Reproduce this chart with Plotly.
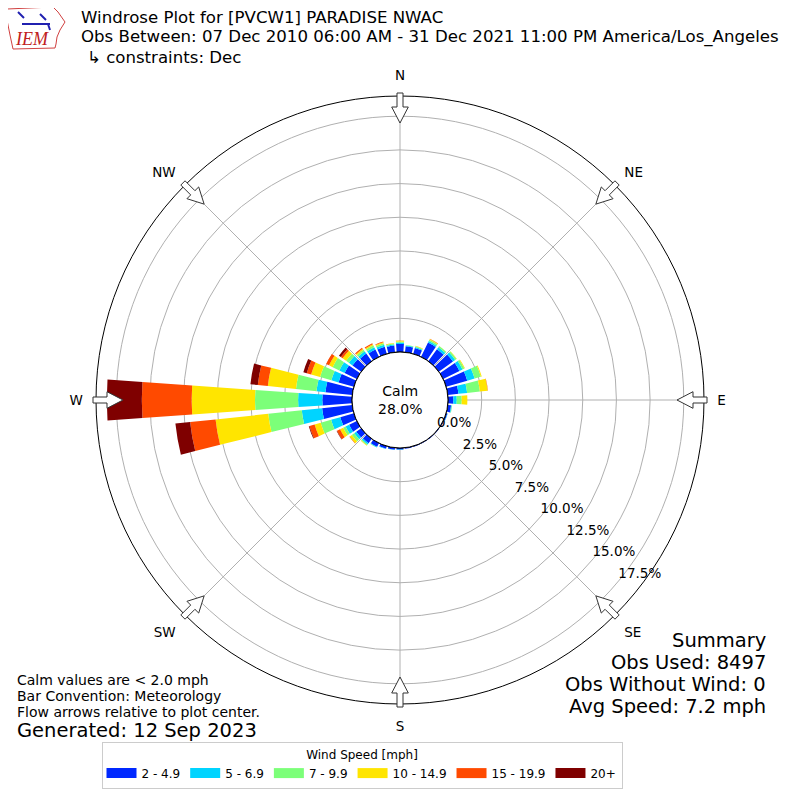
import math
import plotly.graph_objects as go

# ---------------- data ----------------
directions = list(range(0, 360, 10))  # bearing (deg) of each 10-degree sector
speed_bins = ["2 - 4.9", "5 - 6.9", "7 - 9.9", "10 - 14.9", "15 - 19.9", "20+"]
bin_colors = ["#0028ff", "#00d4ff", "#7cff79", "#ffe500", "#ff4a00", "#7f0000"]

# percent of observations per sector, one list per speed bin
pct_2_5 = [0.60, 0.45, 0.45, 1.18, 1.10, 1.30, 1.35, 1.63, 0.80, 0.40, 0.25, 0.10,
           0.06, 0.05, 0.05, 0.05, 0.06, 0.08, 0.12, 0.15, 0.20, 0.30, 0.40, 0.45,
           0.64, 1.05, 2.25, 2.20, 2.00, 1.18, 1.01, 0.80, 0.70, 0.60, 0.55, 0.50]
pct_5_7 = [0.10, 0.06, 0.08, 0.12, 0.18, 0.20, 0.25, 0.57, 0.65, 0.25, 0.05, 0.02,
           0.00, 0.00, 0.00, 0.00, 0.00, 0.00, 0.02, 0.02, 0.03, 0.05, 0.12, 0.19,
           0.29, 0.71, 1.52, 1.80, 0.67, 0.56, 0.44, 0.33, 0.20, 0.20, 0.15, 0.08]
pct_7_10 = [0.08, 0.04, 0.06, 0.12, 0.10, 0.12, 0.15, 0.48, 0.95, 0.37, 0.03, 0.00,
            0.00, 0.00, 0.00, 0.00, 0.00, 0.00, 0.00, 0.00, 0.00, 0.02, 0.08, 0.22,
            0.20, 0.80, 2.50, 3.20, 1.53, 0.87, 0.55, 0.26, 0.15, 0.15, 0.12, 0.07]
pct_10_15 = [0.05, 0.00, 0.03, 0.06, 0.02, 0.03, 0.05, 0.07, 0.58, 0.42, 0.00, 0.00,
             0.00, 0.00, 0.00, 0.00, 0.00, 0.00, 0.00, 0.00, 0.00, 0.00, 0.03, 0.19,
             0.26, 0.47, 3.93, 4.70, 2.10, 0.69, 0.30, 0.32, 0.10, 0.10, 0.08, 0.04]
pct_15_20 = [0.02, 0.00, 0.00, 0.02, 0.00, 0.00, 0.00, 0.00, 0.02, 0.00, 0.00, 0.00,
             0.00, 0.00, 0.00, 0.00, 0.00, 0.00, 0.00, 0.00, 0.00, 0.00, 0.00, 0.03,
             0.25, 0.40, 1.90, 3.70, 0.75, 0.34, 0.24, 0.16, 0.09, 0.08, 0.05, 0.01]
pct_20_up = [0.00, 0.00, 0.00, 0.00, 0.00, 0.00, 0.00, 0.00, 0.00, 0.00, 0.00, 0.00,
             0.00, 0.00, 0.00, 0.00, 0.00, 0.00, 0.00, 0.00, 0.00, 0.00, 0.00, 0.00,
             0.03, 0.05, 1.10, 2.60, 0.55, 0.26, 0.00, 0.17, 0.00, 0.00, 0.00, 0.00]
speed_series = [pct_2_5, pct_5_7, pct_7_10, pct_10_15, pct_15_20, pct_20_up]

radial_ticks = [0.0, 2.5, 5.0, 7.5, 10.0, 12.5, 15.0, 17.5]
compass_deg = [0, 45, 90, 135, 180, 225, 270, 315]
compass_lbl = ["N", "NE", "E", "SE", "S", "SW", "W", "NW"]

calm_pct = 28.0
obs_used = 8497
obs_no_wind = 0
avg_speed = 7.2

# ---------------- geometry helpers (layout only) ----------------
W = H = 800
OFF = 8  # page body margin in the browser
CX, CY, R_OUT, R_HOLE = 400, 400, 304, 48  # target pixel geometry on screen
FONT = "DejaVu Sans"


def px_x(x):
    return (x - OFF) / W


def px_y(y):
    return 1 - (y - OFF) / H


fig = go.Figure()

for vals, name, col in zip(speed_series, speed_bins, bin_colors):
    fig.add_trace(go.Barpolar(
        r=vals, theta=directions, width=8, name=name,
        marker=dict(color=col, line=dict(width=0)),
        showlegend=False, legendgroup=name,
    ))

# hole outline
fig.add_trace(go.Scatterpolar(
    r=[0] * 361, theta=list(range(361)), mode="lines",
    line=dict(color="black", width=1), showlegend=False, hoverinfo="skip"))

# radial tick labels
fig.add_trace(go.Scatterpolar(
    r=radial_ticks, theta=[129.7] * len(radial_ticks), mode="text",
    text=[f"{v:.1f}%" for v in radial_ticks], textposition="top right",
    textfont=dict(family=FONT, size=13.5, color="black"),
    showlegend=False, hoverinfo="skip", cliponaxis=False))

# legend entries (wide colour swatches)
for name, col in zip(speed_bins, bin_colors):
    fig.add_trace(go.Scatterpolar(
        r=[None], theta=[None], mode="lines", name=name, legendgroup=name,
        line=dict(color=col, width=10), showlegend=True))

fig.update_layout(
    width=W, height=H, margin=dict(l=0, r=0, t=0, b=0),
    paper_bgcolor="white", plot_bgcolor="white",
    font=dict(family=FONT, size=13, color="black"),
    polar=dict(
        domain=dict(x=[px_x(CX - R_OUT), px_x(CX + R_OUT)],
                    y=[px_y(CY + R_OUT), px_y(CY - R_OUT)]),
        hole=R_HOLE / R_OUT,
        bgcolor="white",
        barmode="stack",
        radialaxis=dict(range=[0, 19.0], tickmode="array", tickvals=radial_ticks,
                        showticklabels=False, ticks="", showline=False,
                        gridcolor="#b0b0b0", gridwidth=1),
        angularaxis=dict(rotation=90, direction="clockwise", tickmode="array",
                         tickvals=compass_deg, ticktext=compass_lbl,
                         ticks="outside", ticklen=10, tickcolor="rgba(0,0,0,0)",
                         showline=True, linecolor="black", linewidth=1,
                         gridcolor="#b0b0b0", gridwidth=1,
                         tickfont=dict(family=FONT, size=13.5, color="black")),
    ),
    legend=dict(orientation="h", x=px_x(362), y=px_y(742), xanchor="center", yanchor="top",
                bordercolor="#cccccc", borderwidth=1, bgcolor="white",
                font=dict(family=FONT, size=12),
                title=dict(text="Wind Speed [mph]", side="top center",
                           font=dict(family=FONT, size=12)),
                itemwidth=30),
)

# flow arrows at compass points
shapes = []
arrow_local = [(307, -3), (293, -3), (293, -8.3), (277, 0), (293, 8.3), (293, 3), (307, 3)]
for b in compass_deg:
    t = math.radians(b)
    ux, uy = math.sin(t), -math.cos(t)
    vx, vy = math.cos(t), math.sin(t)
    pts = [(CX + s * ux + w * vx, CY + s * uy + w * vy) for s, w in arrow_local]
    path = "M " + " L ".join(f"{px_x(x):.5f},{px_y(y):.5f}" for x, y in pts) + " Z"
    shapes.append(dict(type="path", xref="paper", yref="paper", path=path,
                       fillcolor="white", line=dict(color="#333333", width=1), layer="above"))

# IEM logo approximation
logo = [(7, 9), (53, 7), (58, 12), (65, 22), (60, 30), (57, 37), (56, 44), (55, 48),
        (13, 49), (10, 35), (7, 20)]
shapes.append(dict(type="path", xref="paper", yref="paper",
                   path="M " + " L ".join(f"{px_x(x):.5f},{px_y(y):.5f}" for x, y in logo) + " Z",
                   line=dict(color="#d04040", width=1)))
for (x0, y0, x1, y1) in [(22, 24, 50, 24), (18, 12, 24, 18), (40, 14, 46, 20), (48, 24, 50, 30)]:
    shapes.append(dict(type="line", xref="paper", yref="paper",
                       x0=px_x(x0), y0=px_y(y0), x1=px_x(x1), y1=px_y(y1),
                       line=dict(color="#2020b0", width=2)))
fig.update_layout(shapes=shapes)

ann = []


def add_text(text, x, y, size, xanchor="left", color="black", family=FONT):
    ann.append(dict(text=text, x=px_x(x), y=px_y(y), xref="paper", yref="paper",
                    xanchor=xanchor, yanchor="middle", showarrow=False, borderpad=0,
                    font=dict(family=family, size=size, color=color)))


add_text("<i>IEM</i>", 14, 39, 18, color="#c02020", family="Liberation Serif")
add_text("Windrose Plot for [PVCW1] PARADISE NWAC", 80, 18, 16.6)
add_text("Obs Between: 07 Dec 2010 06:00 AM - 31 Dec 2021 11:00 PM America/Los_Angeles", 80, 37.5, 16.6)
add_text("\u21b3 constraints: Dec", 86, 57, 16.6)

add_text("Calm values are < 2.0 mph", 16, 680, 14)
add_text("Bar Convention: Meteorology", 16, 696, 14)
add_text("Flow arrows relative to plot center.", 16, 712, 14)
add_text("Generated: 12 Sep 2023", 16, 730, 19.5)

add_text("Summary", 767, 640, 19.5, xanchor="right")
add_text(f"Obs Used: {obs_used}", 767, 662, 19.5, xanchor="right")
add_text(f"Obs Without Wind: {obs_no_wind}", 767, 684, 19.5, xanchor="right")
add_text(f"Avg Speed: {avg_speed} mph", 767, 706, 19.5, xanchor="right")

ann.append(dict(text=f"Calm<br>{calm_pct:.1f}%", x=px_x(CX), y=px_y(CY),
                xref="paper", yref="paper",
                xanchor="center", yanchor="middle", showarrow=False,
                font=dict(family=FONT, size=14, color="black")))
fig.update_layout(annotations=ann)

fig.write_html("out.html")
